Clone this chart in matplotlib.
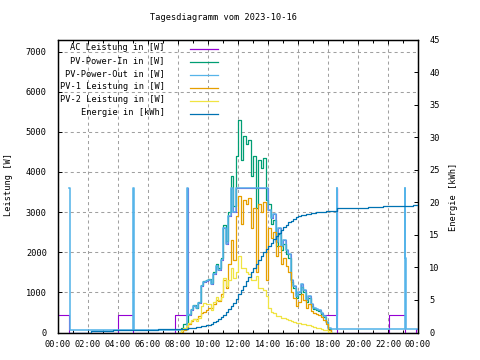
import numpy as np
import matplotlib
matplotlib.use("Agg")
import matplotlib.pyplot as plt
from matplotlib.lines import Line2D

plt.rcParams["font.family"] = ["DejaVu Sans Mono"]
plt.rcParams["font.size"] = 6.2
plt.rcParams["lines.scale_dashes"] = False

title = "Tagesdiagramm vom 2023-10-16"
names = ["AC Leistung in [W]", "PV-Power-In in [W]", "PV-Power-Out in [W]",
         "PV-1 Leistung in [W]", "PV-2 Leistung in [W]", "Energie in [kWh]"]
colors = ["#9400d3", "#009e73", "#56b4e9", "#e69f00", "#f0e442", "#0072b2"]
xtick_pos = list(range(0, 25, 2))
xtick_labels = ["00:00", "02:00", "04:00", "06:00", "08:00", "10:00", "12:00",
                "14:00", "16:00", "18:00", "20:00", "22:00", "00:00"]

# 10-minute grid 08:00 .. 18:10
day_t = np.arange(48, 110) / 6.0

ac_day = [430, 430, 430, 430, 430, 560,
          650, 600, 740, 1150, 1250, 1280,
          1300, 1200, 1450, 1650, 1550, 1800,
          2600, 2200, 2900, 3600, 3000, 3600,
          3600, 3600, 3600, 3600, 3600, 3600,
          3600, 3600, 3600, 3600, 3600, 3600,
          3050, 2850, 2950, 2250, 2600, 2150,
          2300, 2050, 1950, 1300, 1150, 900,
          1000, 1200, 1050, 800, 900, 700,
          620, 580, 560, 480, 430, 430,
          430, 430]
ac_extra_t = [0, 0.75, 4.0, 5.0, 7.83, 8.583, 18.583, 18.633, 22.07, 23.13, 23.87, 24]
ac_extra_v = [430, 0, 430, 0, 430, 3600, 3600, 0, 430, 0, 80, 80]

pv_in_day = [0, 120, 200, 240, 450, 590,
             680, 620, 770, 1180, 1280, 1320,
             1340, 1240, 1500, 1700, 1600, 1860,
             2680, 2270, 3000, 3900, 3150, 4400,
             5300, 4300, 4900, 4700, 4800, 3900,
             4400, 3100, 4300, 4100, 4350, 3300,
             3200, 2700, 2800, 2150, 2450, 2050,
             2200, 1950, 1850, 1250, 1100, 870,
             950, 1130, 1000, 760, 860, 670,
             590, 550, 530, 450, 380, 250,
             90, 0]

pv_out_day = [50, 50, 50, 60, 430, 560,
              650, 600, 740, 1150, 1250, 1280,
              1300, 1200, 1450, 1650, 1550, 1800,
              2600, 2200, 2900, 3600, 3000, 3600,
              3600, 3600, 3600, 3600, 3600, 3600,
              3600, 3600, 3600, 3600, 3600, 3600,
              3050, 2850, 2950, 2250, 2600, 2150,
              2300, 2050, 1950, 1300, 1150, 900,
              1000, 1200, 1050, 800, 900, 700,
              620, 580, 560, 480, 400, 260,
              100, 80]
pv_out_extra_t = [0.75, 0.80, 5.0, 5.05, 8.583, 18.583, 18.633, 23.13, 23.16, 23.2, 24]
pv_out_extra_v = [3600, 60, 3600, 60, 3600, 3600, 80, 3600, 1850, 80, 80]

pv1_day = [0, 20, 60, 90, 200, 280,
           340, 330, 400, 480, 520, 560,
           600, 620, 720, 800, 780, 950,
           1300, 1100, 1700, 2300, 1800, 2900,
           3400, 2700, 3300, 3200, 3350, 2600,
           3100, 1500, 3200, 3000, 3250, 1300,
           2600, 2350, 2500, 1900, 2150, 1700,
           1850, 1650, 1500, 1000, 850, 650,
           750, 950, 820, 600, 700, 540,
           480, 450, 430, 380, 320, 200,
           60, 0]

pv2_day = [0, 60, 120, 160, 230, 300,
           330, 280, 360, 650, 740, 720,
           720, 560, 750, 880, 800, 880,
           1350, 1150, 1300, 1600, 1350, 1500,
           1900, 1600, 1600, 1500, 1450, 1300,
           1300, 1400, 1100, 1100, 1050, 900,
           600, 520, 480, 420, 400, 370,
           360, 340, 320, 280, 260, 240,
           230, 220, 210, 190, 180, 160,
           140, 120, 100, 80, 60, 50,
           20, 0]

energy_day = [0.50, 0.52, 0.55, 0.59, 0.63, 0.69,
              0.75, 0.82, 0.89, 0.97, 1.05, 1.12,
              1.20, 1.38, 1.58, 1.80, 2.05, 2.35,
              2.70, 3.10, 3.55, 4.05, 4.60, 5.20,
              5.90, 6.55, 7.20, 7.85, 8.55, 9.25,
              9.90, 10.55, 11.15, 11.75, 12.35, 12.85,
              13.30, 13.80, 14.30, 14.80, 15.30, 15.75,
              16.20, 16.55, 16.90, 17.20, 17.45, 17.70,
              17.90, 18.00, 18.10, 18.18, 18.25, 18.32,
              18.40, 18.45, 18.50, 18.55, 18.58, 18.62,
              18.65, 18.70]
energy_extra_t = [0.75, 2.17, 3.67, 6.67, 18.583, 20.67, 21.67, 23.67, 24]
energy_extra_v = [0.0, 0.23, 0.38, 0.49, 19.05, 19.2, 19.4, 19.6, 19.6]


def combine(day_vals, extra_t=(), extra_v=()):
    t = np.concatenate([day_t, np.asarray(extra_t, float)])
    v = np.concatenate([np.asarray(day_vals, float), np.asarray(extra_v, float)])
    o = np.argsort(t, kind="stable")
    return t[o], v[o]


W, H = 480, 360
fig = plt.figure(figsize=(4.8, 3.6), dpi=100)
L, R, T, B = 58, 418, 39.5, 332.5
ax = fig.add_axes([L / W, 1 - B / H, (R - L) / W, (B - T) / H])
ax.set_xlim(0, 24)
ax.set_ylim(0, 7300)
ax2 = ax.twinx()
ax2.set_ylim(0, 45)

lw = 0.9
widths = [0.8, lw, 1.15, lw, lw]
series = [combine(ac_day, ac_extra_t, ac_extra_v),
          combine(pv_in_day),
          combine(pv_out_day, pv_out_extra_t, pv_out_extra_v),
          combine(pv1_day),
          combine(pv2_day)]
for (t, v), c, w in zip(series, colors[:5], widths):
    ax.plot(t, v, drawstyle="steps-post", color=c, lw=w, zorder=3)
te, ve = combine(energy_day, energy_extra_t, energy_extra_v)
ax2.plot(te, ve, drawstyle="steps-post", color=colors[5], lw=lw, zorder=3)

# grid
ax.set_axisbelow(True)
ax.grid(True, which="major", color="#a0a0a0", lw=0.75, linestyle=(0, (2.2, 2.2)))

ax.set_xticks(xtick_pos)
ax.set_xticklabels(xtick_labels)
ax.set_xticks(range(0, 25), minor=True)
ax.set_yticks(range(0, 7001, 1000))
ax.set_yticklabels([str(v) for v in range(0, 7001, 1000)])
ax2.set_yticks(range(0, 46, 5))
ax2.set_yticklabels([str(v) for v in range(0, 46, 5)])

ax.tick_params(axis="x", which="major", direction="in", top=True, bottom=True,
               length=3.2, width=0.7, pad=5.5, labelsize=6.2)
ax.tick_params(axis="x", which="minor", direction="in", top=True, bottom=True,
               length=2.2, width=0.7)
ax.tick_params(axis="y", direction="in", left=True, right=False,
               length=3.0, width=0.7, pad=8, labelsize=6.2)
ax2.tick_params(axis="y", direction="in", left=False, right=True,
                length=3.0, width=0.7, pad=8, labelsize=6.2)
for a in (ax, ax2):
    for s in a.spines.values():
        s.set_linewidth(0.9)
        s.set_color("black")

fig.text(224 / W, 1 - 18 / H, title, ha="center", va="center")
fig.text(9 / W, 1 - 184 / H, "Leistung [W]", rotation=90, ha="center", va="center")
fig.text(453 / W, 1 - 197 / H, "Energie [kWh]", rotation=90, ha="center", va="center")

for i, (n, c) in enumerate(zip(names, colors)):
    yl = 49.3 + 13.0 * i
    fig.text(165 / W, 1 - (yl - 1.5) / H, n, ha="right", va="center")
    fig.add_artist(Line2D([190 / W, 218 / W], [1 - yl / H] * 2,
                          transform=fig.transFigure, color=c, lw=lw))

fig.savefig("out.png", dpi=100)
